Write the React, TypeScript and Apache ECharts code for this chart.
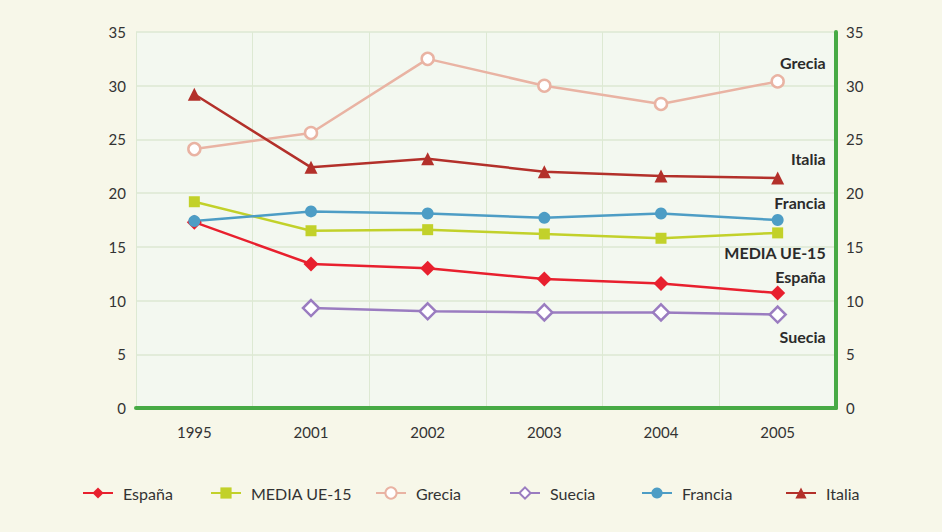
import React, { useEffect, useRef } from "react";
import * as echarts from "echarts";

const categories = ["1995", "2001", "2002", "2003", "2004", "2005"];
const espana = [17.3, 13.4, 13.0, 12.0, 11.6, 10.7];
const media = [19.2, 16.5, 16.6, 16.2, 15.8, 16.3];
const grecia = [24.1, 25.6, 32.5, 30.0, 28.3, 30.4];
const suecia = [null, 9.3, 9.0, 8.9, 8.9, 8.7];
const francia = [17.4, 18.3, 18.1, 17.7, 18.1, 17.5];
const italia = [29.2, 22.4, 23.2, 22.0, 21.6, 21.4];
const yTicks = { min: 0, max: 35, interval: 5 };

const FONT = "Lato, 'Open Sans', sans-serif";

type SeriesDef = {
  name: string;
  data: (number | null)[];
  color: string;
  symbol: string;
  size: number;
  hollow?: boolean;
  labelOffset: [number, number];
  legendLeft: number;
};

const defs: SeriesDef[] = [
  { name: "España", data: espana, color: "#e8202e", symbol: "diamond", size: 15, labelOffset: [48, -17], legendLeft: 82 },
  { name: "MEDIA UE-15", data: media, color: "#c2d12a", symbol: "rect", size: 11, labelOffset: [48, 20], legendLeft: 210 },
  { name: "Grecia", data: grecia, color: "#e9b3a3", symbol: "circle", size: 12, hollow: true, labelOffset: [48, -19], legendLeft: 375 },
  { name: "Suecia", data: suecia, color: "#9a7cc0", symbol: "diamond", size: 16, hollow: true, labelOffset: [48, 22], legendLeft: 509 },
  { name: "Francia", data: francia, color: "#4d9dc5", symbol: "circle", size: 12, labelOffset: [48, -18], legendLeft: 641 },
  { name: "Italia", data: italia, color: "#b3302a", symbol: "triangle", size: 13, labelOffset: [48, -20], legendLeft: 785 },
];

export default function App() {
  const ref = useRef<HTMLDivElement>(null);
  useEffect(() => {
    if (!ref.current) return;
    const chart = echarts.init(ref.current, undefined, { renderer: "svg" });
    const series = defs.map((d) => ({
      name: d.name,
      type: "line",
      symbol: d.symbol,
      symbolSize: d.size,
      lineStyle: { color: d.color, width: 2.5 },
      itemStyle: {
        color: d.hollow ? "#ffffff" : d.color,
        borderColor: d.color,
        borderWidth: d.hollow ? 2.5 : 0,
      },
      z: 3,
      data: d.data.map((v, i) =>
        i === d.data.length - 1
          ? {
              value: v,
              label: {
                show: true,
                position: "inside",
                align: "right",
                verticalAlign: "middle",
                offset: d.labelOffset,
                formatter: d.name,
                color: "#2b2b2b",
                fontSize: 16,
                fontWeight: "bold",
                fontFamily: FONT,
              },
            }
          : v
      ),
    }));
    const legends = defs.map((d) => ({
      data: [d.name],
      left: d.legendLeft,
      top: 485,
      padding: 0,
      itemWidth: 30,
      itemHeight: 14,
      itemGap: 0,
      textStyle: { color: "#333", fontSize: 16, fontFamily: FONT, padding: [0, 0, 0, 5] },
      selectedMode: false,
    }));
    chart.setOption({
      animation: false,
      backgroundColor: "#f7f7e9",
      textStyle: { fontFamily: FONT },
      legend: legends,
      grid: {
        left: 136,
        right: 106,
        top: 32,
        bottom: 124,
        show: true,
        backgroundColor: "#f3f8f0",
        borderWidth: 0,
      },
      xAxis: {
        type: "category",
        data: categories,
        boundaryGap: true,
        axisLine: { show: true, lineStyle: { color: "#47aa45", width: 4 } },
        axisTick: { show: false },
        axisLabel: { color: "#333", fontSize: 15, margin: 16, fontFamily: FONT },
        splitLine: { show: true, lineStyle: { color: "#dde9d3", width: 1 } },
      },
      yAxis: [
        {
          type: "value",
          ...yTicks,
          axisLine: { show: false },
          axisTick: { show: false },
          axisLabel: { color: "#333", fontSize: 15, margin: 10, fontFamily: FONT },
          splitLine: { show: true, lineStyle: { color: "#dde9d3", width: 1.5 } },
        },
        {
          type: "value",
          position: "right",
          ...yTicks,
          axisLine: { show: true, lineStyle: { color: "#47aa45", width: 4 } },
          axisTick: { show: false },
          axisLabel: { color: "#333", fontSize: 15, margin: 10, fontFamily: FONT },
          splitLine: { show: false },
        },
      ],
      series,
    });
    return () => chart.dispose();
  }, []);
  return <div ref={ref} style={{ width: 942, height: 532, position: "absolute", left: 0, top: 0 }} />;
}
